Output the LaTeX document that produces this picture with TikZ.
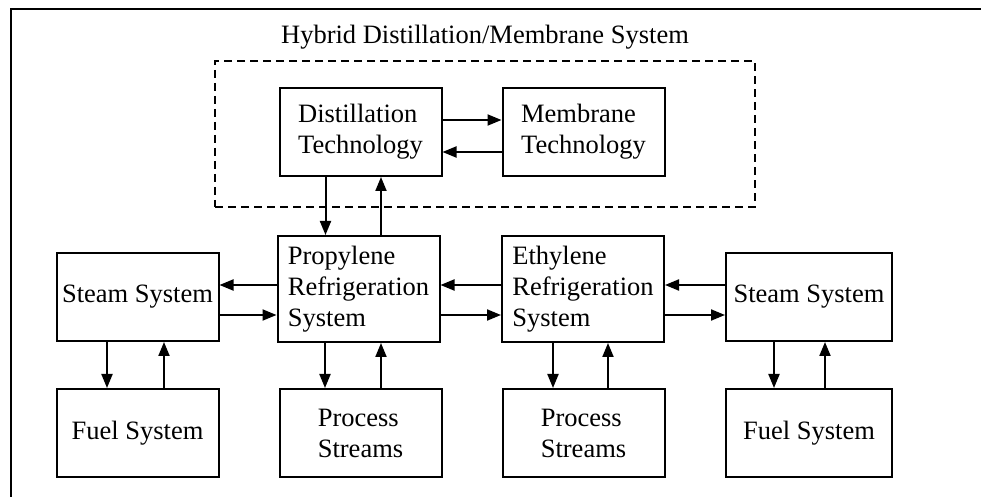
\documentclass[tikz,border=0pt]{standalone}
\usepackage{fontspec}
\setmainfont{Liberation Serif}
\usetikzlibrary{arrows.meta}
\tikzset{
	sysbox/.style={draw, line width=1pt, minimum width=81pt, minimum height=44pt, align=left, inner sep=0pt, font=\fontsize{13.25}{15.5}\selectfont},
	arr/.style={line width=1pt, -{Triangle[length=7pt,width=5.5pt]}}
}

\begin{document}
\begin{tikzpicture}[x=0.5pt, y=-0.5pt]
		%%%%% START %%%%%
		\useasboundingbox (0, 0) rectangle (981, 497);
		
		\draw[line width=1.2pt] (981, 9) -- (11, 9) -- (11, 497);
		
		% hybrid part
		\node[draw, dashed, dash pattern=on 4pt off 2.5pt, line width=1pt, minimum width=270pt, minimum height=73pt] (hybrid) at (485, 134) {};
		\node[font=\fontsize{13.25}{15.5}\selectfont] (title) at (485, 37) {Hybrid Distillation/Membrane System};
		
		\node[sysbox] (dist) at (360.5, 132) {Distillation\\Technology};
		\node[sysbox] (memb) at (583.5, 132) {Membrane\\Technology};
		
		% refrigeration systems
		\node[sysbox, minimum height=53pt] (prop) at (358.5, 289) {Propylene\\Refrigeration\\System};
		\node[sysbox, minimum height=53pt] (eth) at (583, 289) {Ethylene\\Refrigeration\\System};
		
		\node[sysbox] (steamL) at (137.5, 297) {Steam System};
		\node[sysbox, minimum width=83pt] (steamR) at (809, 297) {Steam System};
		
		\node[sysbox] (fuelL) at (137.5, 433) {Fuel System};
		\node[sysbox] (procL) at (360.5, 433) {Process\\Streams};
		\node[sysbox] (procR) at (583.5, 433) {Process\\Streams};
		\node[sysbox, minimum width=83pt] (fuelR) at (809, 433) {Fuel System};
		
		% top arrows
		\draw[arr] ([yshift=6pt]dist.east) -- ([yshift=6pt]dist.east -| memb.west);
		\draw[arr] ([yshift=-10pt]memb.west) -- ([yshift=-10pt]memb.west -| dist.east);
		\draw[arr] ([xshift=-17.5pt]dist.south) -- ([xshift=-17.5pt]dist.south |- prop.north);
		\draw[arr] ([xshift=10.25pt]dist.south |- prop.north) -- ([xshift=10.25pt]dist.south);
		
		% left and right arrows
		\draw[arr] ([yshift=6pt]steamL.east -| prop.west) -- ([yshift=6pt]steamL.east);
		\draw[arr] ([yshift=-9pt]steamL.east) -- ([yshift=-9pt]steamL.east -| prop.west);
		\draw[arr] ([yshift=6pt]steamL.east -| eth.west) -- ([yshift=6pt]steamL.east -| prop.east);
		\draw[arr] ([yshift=-9pt]steamL.east -| prop.east) -- ([yshift=-9pt]steamL.east -| eth.west);
		\draw[arr] ([yshift=6pt]steamR.west) -- ([yshift=6pt]steamR.west -| eth.east);
		\draw[arr] ([yshift=-9pt]steamR.west -| eth.east) -- ([yshift=-9pt]steamR.west);
		
		% down arrows
		\draw[arr] ([xshift=-15.25pt]steamL.south) -- ([xshift=-15.25pt]fuelL.north);
		\draw[arr] ([xshift=13.25pt]fuelL.north) -- ([xshift=13.25pt]steamL.south);
		\draw[arr] ([xshift=-17.75pt]procL.north |- prop.south) -- ([xshift=-17.75pt]procL.north);
		\draw[arr] ([xshift=10.25pt]procL.north) -- ([xshift=10.25pt]procL.north |- prop.south);
		\draw[arr] ([xshift=-15pt]eth.south) -- ([xshift=-15pt]eth.south |- procR.north);
		\draw[arr] ([xshift=12.5pt]eth.south |- procR.north) -- ([xshift=12.5pt]eth.south);
		\draw[arr] ([xshift=-17.5pt]steamR.south) -- ([xshift=-17.5pt]fuelR.north);
		\draw[arr] ([xshift=8pt]fuelR.north) -- ([xshift=8pt]steamR.south);
		
		%%%%% END %%%%%
	\end{tikzpicture}
\end{document}
